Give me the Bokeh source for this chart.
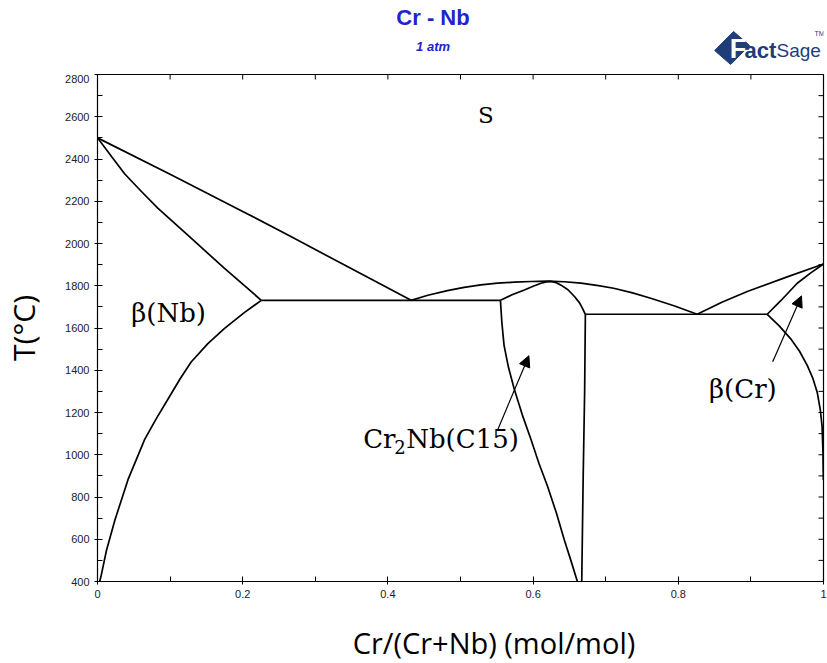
from bokeh.plotting import figure
from bokeh.layouts import column
from bokeh.models import (Label, FixedTicker, CustomJSTickFormatter, Arrow, NormalHead,
                          Range1d)
from bokeh.embed import file_html
from bokeh.resources import INLINE

# ---- phase boundaries: x = Cr/(Cr+Nb), T in degrees C ----
nb_liquidus_x = [0.0, 0.1, 0.2, 0.267, 0.35, 0.432]
nb_liquidus_t = [2500, 2328, 2152, 2032, 1880, 1731]

nb_solidus_x = [0.0, 0.0193, 0.0376, 0.0605, 0.0834, 0.129, 0.175, 0.2256]
nb_solidus_t = [2500, 2412, 2329, 2246, 2166, 2025, 1882, 1731]

nb_solvus_x = [0.2256, 0.2026, 0.175, 0.152, 0.129, 0.1132, 0.0972, 0.0812, 0.065,
               0.042, 0.024, 0.0124, 0.0046, 0.003]
nb_solvus_t = [1731, 1674, 1598, 1526, 1439, 1356, 1264, 1172, 1073,
               882, 691, 548, 421, 400]

eutectic1_x = [0.2256, 0.555]
eutectic1_t = [1731, 1731]

liquidus_mid_x = [0.432, 0.455, 0.482, 0.505, 0.528, 0.551, 0.574, 0.597, 0.62, 0.643,
                  0.666, 0.69, 0.711, 0.737, 0.762, 0.795, 0.826]
liquidus_mid_t = [1731, 1755, 1777, 1792, 1804, 1812, 1817, 1820, 1822, 1819,
                  1812, 1801, 1788, 1766, 1741, 1704, 1665]

c15_top_x = [0.555, 0.571, 0.588, 0.600, 0.611, 0.618, 0.624, 0.631, 0.638, 0.648,
             0.657, 0.664, 0.668, 0.672]
c15_top_t = [1731, 1757, 1780, 1798, 1812, 1818, 1821, 1816, 1804, 1781,
             1749, 1719, 1693, 1665]

c15_left_x = [0.555, 0.557, 0.560, 0.566, 0.574, 0.585, 0.597, 0.608, 0.620, 0.632,
              0.643, 0.652, 0.661]
c15_left_t = [1731, 1625, 1518, 1415, 1311, 1190, 1073, 960, 850, 725,
              596, 500, 400]

c15_right_x = [0.672, 0.671, 0.669, 0.667]
c15_right_t = [1665, 1300, 900, 400]

eutectic2_x = [0.672, 0.9225]
eutectic2_t = [1665, 1665]

cr_liquidus_x = [0.826, 0.86, 0.895, 0.95, 1.0]
cr_liquidus_t = [1665, 1722, 1773, 1842, 1903]

cr_solidus_x = [0.9225, 0.9408, 0.9638, 0.982, 1.0]
cr_solidus_t = [1665, 1728, 1812, 1860, 1903]

cr_solvus_x = [0.9225, 0.939, 0.9546, 0.967, 0.9776, 0.9855, 0.9913, 0.9955, 0.998,
               0.9992, 0.9998]
cr_solvus_t = [1665, 1610, 1550, 1490, 1423, 1360, 1296, 1215, 1136, 1020, 880]

boundaries = [
    (nb_liquidus_x, nb_liquidus_t), (nb_solidus_x, nb_solidus_t),
    (nb_solvus_x, nb_solvus_t), (eutectic1_x, eutectic1_t),
    (liquidus_mid_x, liquidus_mid_t), (c15_top_x, c15_top_t),
    (c15_left_x, c15_left_t), (c15_right_x, c15_right_t),
    (eutectic2_x, eutectic2_t), (cr_liquidus_x, cr_liquidus_t),
    (cr_solidus_x, cr_solidus_t), (cr_solvus_x, cr_solvus_t),
]

x_ticks = [0, 0.2, 0.4, 0.6, 0.8, 1.0]
x_minor = [0.1, 0.3, 0.5, 0.7, 0.9]
t_ticks = list(range(400, 2801, 200))
t_minor = list(range(500, 2800, 200))

W = 827
LEFT, RIGHT = 96, 4
NAVY = "#1f3d78"
BLUE = "#2323cc"


def strip(height):
    # text-only band sharing the diagram's horizontal frame; x in page pixels
    f = figure(width=W, height=height, output_backend="svg", toolbar_location=None,
               x_range=Range1d(LEFT, W - RIGHT), y_range=Range1d(height, 0),
               min_border_left=LEFT, min_border_right=RIGHT, min_border_top=0,
               min_border_bottom=0, outline_line_color=None)
    f.axis.visible = False
    f.grid.visible = False
    return f


# ---- header: title, subtitle and FactSage mark ----
head = strip(74)
head.add_layout(Label(x=432, y=17, text="Cr - Nb", text_font="Liberation Sans",
                      text_font_size="22px", text_font_style="bold", text_color=BLUE,
                      text_align="center", text_baseline="middle"))
head.add_layout(Label(x=432, y=46, text="1 atm", text_font="Liberation Sans",
                      text_font_size="13px", text_font_style="bold italic",
                      text_color=BLUE, text_align="center", text_baseline="middle"))
head.patch([714, 733, 749, 730], [50, 31, 45, 64], fill_color=NAVY, line_color=NAVY)
head.add_layout(Label(x=729, y=48, text="F", text_font="Liberation Sans",
                      text_font_size="27px", text_font_style="bold", text_color="white",
                      text_align="left", text_baseline="middle"))
head.add_layout(Label(x=744, y=50, text="act", text_font="Liberation Sans",
                      text_font_size="22px", text_font_style="bold", text_color=NAVY,
                      text_align="left", text_baseline="middle"))
head.add_layout(Label(x=776, y=50, text="Sage", text_font="Liberation Sans",
                      text_font_size="19px", text_color=NAVY,
                      text_align="left", text_baseline="middle"))
head.add_layout(Label(x=814, y=33, text="TM", text_font="Liberation Sans",
                      text_font_size="7px", text_color=NAVY,
                      text_align="left", text_baseline="middle"))

# ---- phase diagram ----
p = figure(width=W, height=529, output_backend="svg", toolbar_location=None,
           x_range=Range1d(0, 1), y_range=Range1d(400, 2800),
           min_border_left=LEFT, min_border_right=RIGHT, min_border_top=0,
           min_border_bottom=22)
p.xgrid.visible = False
p.ygrid.visible = False
p.outline_line_color = "black"
p.outline_line_width = 1.2

for xs, ts in boundaries:
    p.line(xs, ts, line_color="black", line_width=1.7, line_join="round")

# inward ticks on the right and top frame edges (half of each dash is clipped)
p.scatter([1.0] * len(t_ticks + t_minor), t_ticks + t_minor, marker="dash", size=10,
          line_color="black", line_width=1)
p.scatter(x_ticks + x_minor, [2800] * len(x_ticks + x_minor), marker="dash", size=10,
          angle=1.5708, line_color="black", line_width=1)

p.xaxis.ticker = FixedTicker(ticks=x_ticks, minor_ticks=x_minor)
p.xaxis.formatter = CustomJSTickFormatter(code="return String(Math.round(tick*10)/10)")
p.yaxis.ticker = FixedTicker(ticks=t_ticks, minor_ticks=t_minor)
for ax in (p.xaxis[0], p.yaxis[0]):
    ax.major_label_text_font = "Liberation Sans"
    ax.major_label_text_font_size = "11px"
    ax.major_label_text_color = "#222222"
    ax.major_tick_in = 5
    ax.major_tick_out = 3
    ax.minor_tick_in = 5
    ax.minor_tick_out = 0
    ax.axis_line_color = "black"
p.yaxis.axis_label = "T(°C)"
p.yaxis.axis_label_text_font = "Open Sans"
p.yaxis.axis_label_text_font_size = "30px"
p.yaxis.axis_label_text_font_style = "normal"
p.yaxis.axis_label_text_color = "black"
p.yaxis.axis_label_standoff = 18

# phase labels
serif = "DejaVu Serif"


def phase_label(x, t, text, size="26px", align="center", x_offset=0):
    p.add_layout(Label(x=x, y=t, text=text, text_font=serif, text_font_size=size,
                       text_color="black", text_align=align, text_baseline="middle",
                       x_offset=x_offset))


phase_label(0.535, 2610, "S", size="23px")
phase_label(0.098, 1669, "β(Nb)")
phase_label(0.889, 1311, "β(Cr)")
# Cr2Nb(C15) with a lowered subscript
phase_label(0.366, 1073, "Cr", align="left")
phase_label(0.366, 1035, "2", size="18px", align="left", x_offset=31)
phase_label(0.366, 1073, "Nb(C15)", align="left", x_offset=43)

# pointer arrows
for x0, t0, x1, t1 in [(0.5516, 1121, 0.5942, 1469), (0.930, 1440, 0.9697, 1752)]:
    p.add_layout(Arrow(x_start=x0, y_start=t0, x_end=x1, y_end=t1, line_width=1.2,
                       end=NormalHead(size=11, fill_color="black", line_color="black")))

# ---- footer: composition axis title ----
foot = strip(60)
foot.add_layout(Label(x=493, y=39, text="Cr/(Cr+Nb) (mol/mol)", text_font="Open Sans",
                      text_font_size="29px", text_color="black",
                      text_align="center", text_baseline="middle"))

page = column(head, p, foot, spacing=0)
open("out.html", "w").write(file_html(page, INLINE))
